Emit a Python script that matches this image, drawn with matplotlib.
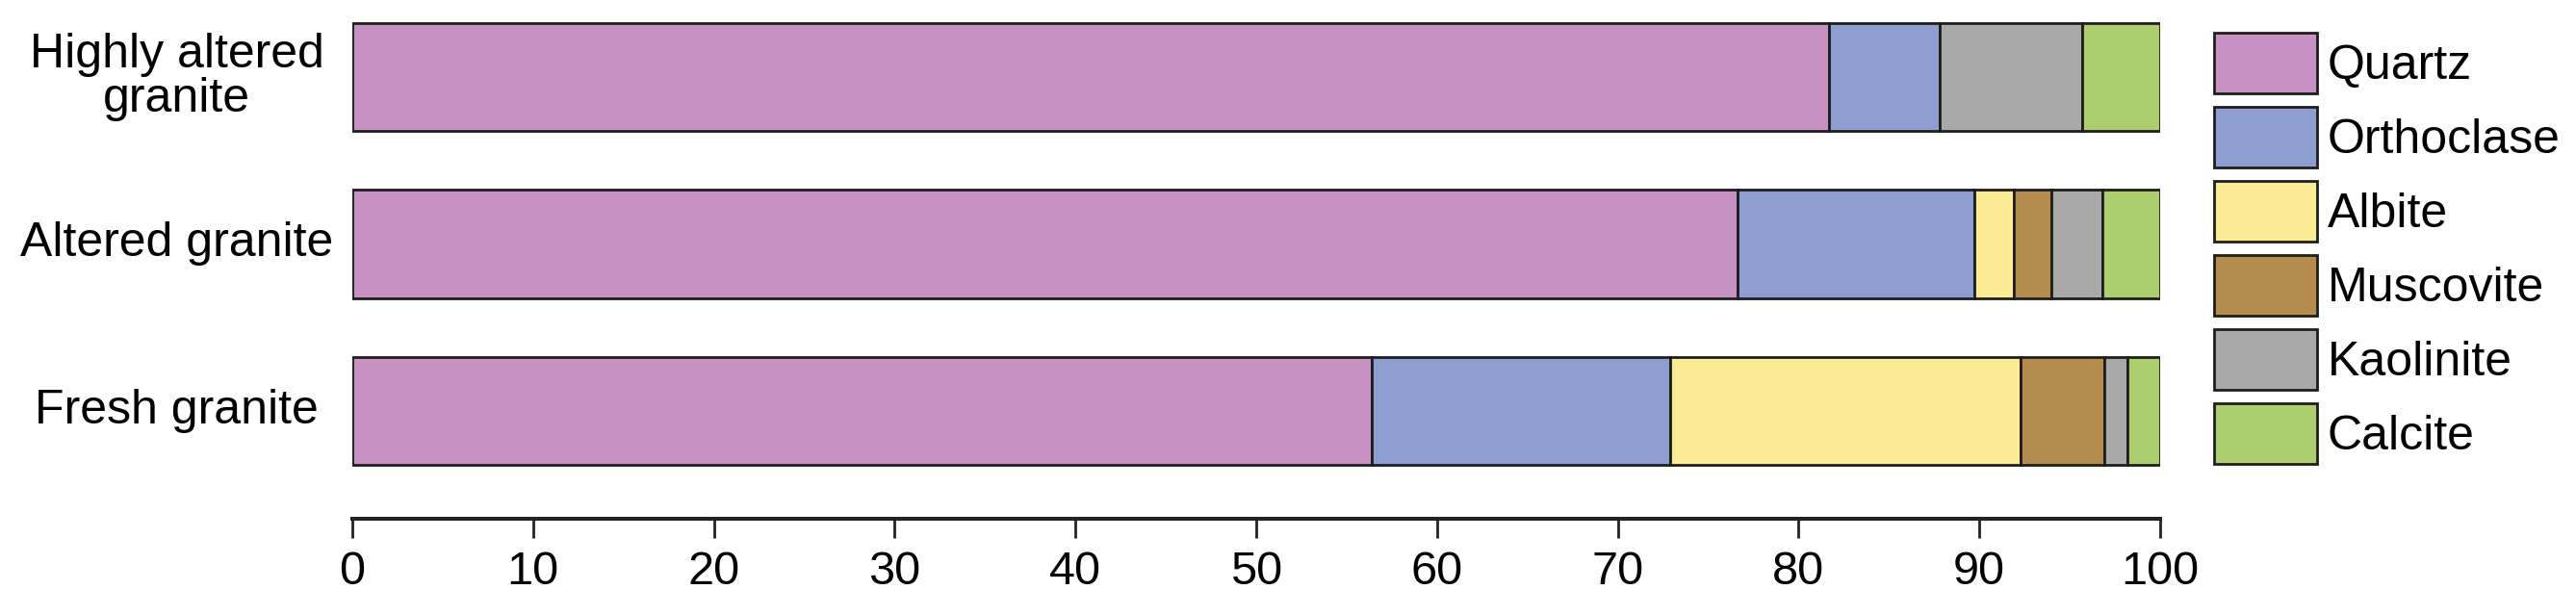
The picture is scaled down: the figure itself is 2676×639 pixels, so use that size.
import matplotlib
matplotlib.use("Agg")
import matplotlib.pyplot as plt
import numpy as np

categories = ["Fresh granite", "Altered granite", "Highly altered\ngranite"]
minerals = ["Quartz", "Orthoclase", "Albite", "Muscovite", "Kaolinite", "Calcite"]
quartz = [56.4, 76.6, 81.7]
orthoclase = [16.5, 13.1, 6.1]
albite = [19.4, 2.2, 0.0]
muscovite = [4.6, 2.1, 0.0]
kaolinite = [1.3, 2.8, 7.9]
calcite = [1.8, 3.2, 4.3]
colors = ["#C891C3", "#8F9ED0", "#FBEB95", "#B48C4E", "#A9A9A9", "#ADCE6E"]
xticks = [0, 10, 20, 30, 40, 50, 60, 70, 80, 90, 100]

series = [quartz, orthoclase, albite, muscovite, kaolinite, calcite]

regular = ["Liberation Sans", "DejaVu Sans"]

W, H, DPI = 2676, 639, 100
fig = plt.figure(figsize=(W / DPI, H / DPI), dpi=DPI)
ax = fig.add_axes([366 / W, 1 - 539 / H, 1878 / W, 539 / H])

y = np.arange(len(categories))
left = np.zeros(len(categories))
handles = []
for vals, name, col in zip(series, minerals, colors):
    vals = np.array(vals)
    b = ax.barh(y, vals, left=left, height=0.65, color=col,
                edgecolor="#1e1e1e", linewidth=2.0, label=name)
    handles.append(b)
    left = left + vals

ax.set_xlim(0, 100)
ax.set_ylim(-0.646, 2.461)
ax.set_xticks(xticks)
ax.set_xticklabels([str(t) for t in xticks], family=regular, fontsize=35)
ax.set_yticks([])
for s in ["top", "right", "left"]:
    ax.spines[s].set_visible(False)
ax.spines["bottom"].set_linewidth(2.9)
ax.spines["bottom"].set_color("#222222")
ax.tick_params(axis="x", length=14.5, width=2.0, color="#222222", pad=9)

trans = matplotlib.transforms.blended_transform_factory(ax.transAxes, ax.transData)
for yi, cat in zip(y, categories):
    ax.text(-0.097, yi, cat, transform=trans, ha="center", va="center",
            multialignment="center", family=regular, fontsize=36,
            linespacing=1.02)

leg = fig.legend(handles=handles, labels=minerals, loc="upper left",
                 bbox_to_anchor=(2300 / W, 1 - 34 / H), frameon=False,
                 prop={"family": regular, "size": 36},
                 handlelength=2.14, handleheight=1.56, handletextpad=0.22,
                 labelspacing=0.28, borderpad=0, borderaxespad=0)

fig.savefig("out.png", dpi=DPI)
